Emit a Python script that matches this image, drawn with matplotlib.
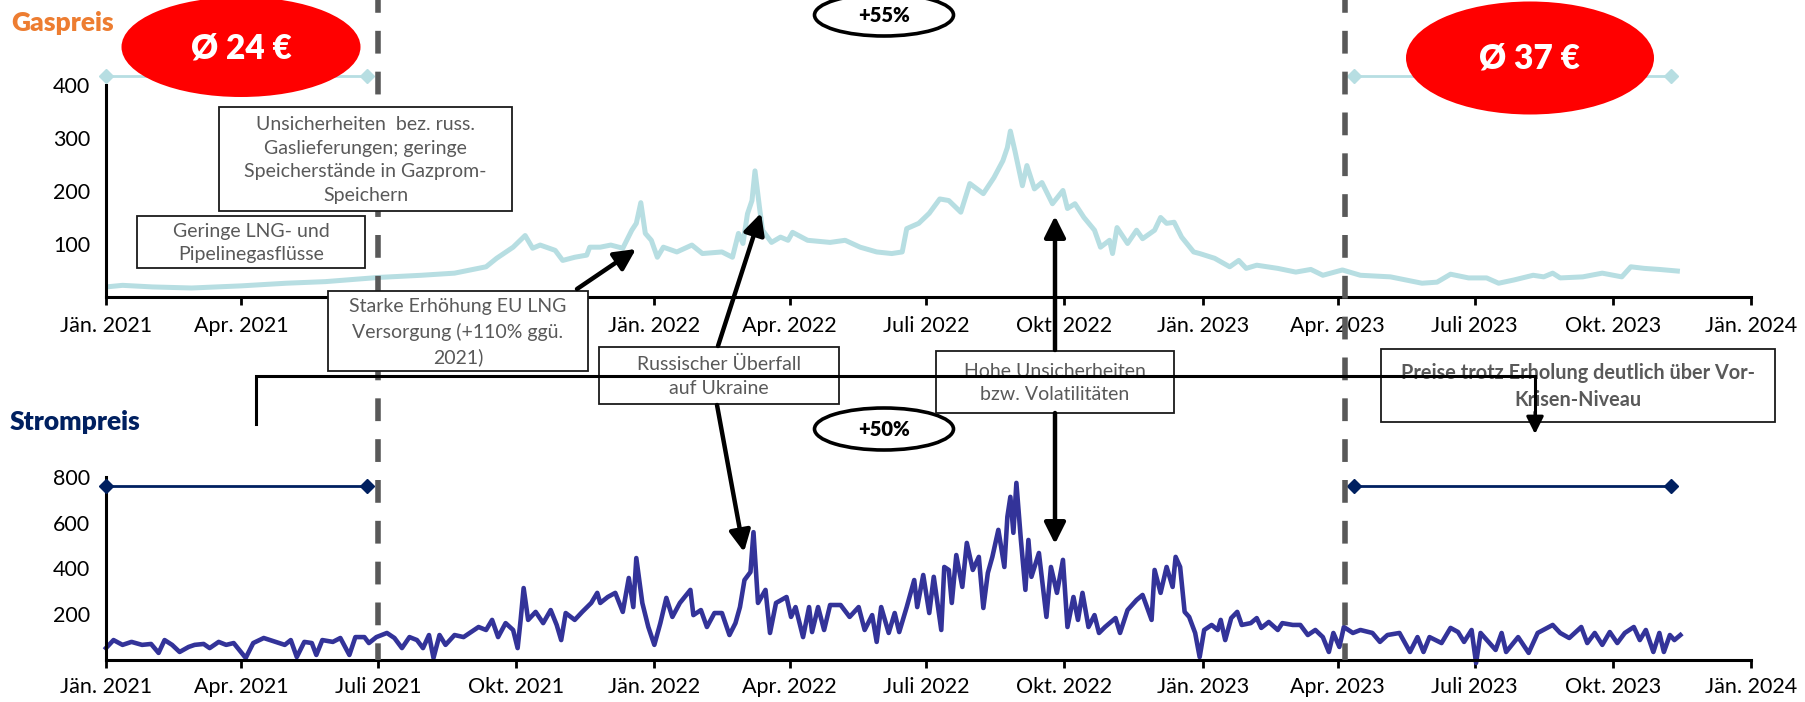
import matplotlib
matplotlib.use("Agg")
import matplotlib.pyplot as plt
import matplotlib.dates as mdates
from matplotlib.patches import Ellipse, Rectangle
from matplotlib.ticker import FuncFormatter
import pandas as pd

plt.rcParams['font.family'] = ['Lato', 'DejaVu Sans']

# ---------------------------------------------------------------- data
gas_dates = [
    "2021-01-01", "2021-01-12", "2021-02-01", "2021-02-27", "2021-04-01", "2021-05-01", "2021-05-27",
    "2021-07-02", "2021-07-30", "2021-08-21", "2021-09-11", "2021-09-18", "2021-09-29", "2021-10-07",
    "2021-10-12", "2021-10-17", "2021-10-27", "2021-11-01", "2021-11-09", "2021-11-17", "2021-11-19",
    "2021-11-26", "2021-12-03", "2021-12-11", "2021-12-17", "2021-12-20", "2021-12-23", "2021-12-26",
    "2021-12-30",
    "2022-01-03", "2022-01-07", "2022-01-16", "2022-01-26", "2022-02-02", "2022-02-15", "2022-02-22",
    "2022-02-26", "2022-03-01", "2022-03-04", "2022-03-07", "2022-03-09", "2022-03-12", "2022-03-14",
    "2022-03-20", "2022-03-26", "2022-03-31", "2022-04-03", "2022-04-13", "2022-04-28", "2022-05-08",
    "2022-05-18", "2022-05-29", "2022-06-08", "2022-06-15", "2022-06-18", "2022-06-26", "2022-07-03",
    "2022-07-10", "2022-07-16", "2022-07-24", "2022-07-30", "2022-08-08", "2022-08-15", "2022-08-21",
    "2022-08-24", "2022-08-26", "2022-08-29", "2022-09-03", "2022-09-06", "2022-09-11", "2022-09-16",
    "2022-09-23", "2022-09-30", "2022-10-03", "2022-10-08", "2022-10-14", "2022-10-21", "2022-10-25",
    "2022-10-31", "2022-11-02", "2022-11-05", "2022-11-12", "2022-11-18", "2022-11-22", "2022-11-30",
    "2022-12-04", "2022-12-08", "2022-12-13", "2022-12-18", "2022-12-26", "2022-12-30",
    "2023-01-09", "2023-01-19", "2023-01-25", "2023-01-30", "2023-02-06", "2023-02-20", "2023-03-04",
    "2023-03-14", "2023-03-22", "2023-04-04", "2023-04-16", "2023-05-06", "2023-05-27", "2023-06-06",
    "2023-06-15", "2023-06-27", "2023-07-09", "2023-07-17", "2023-07-27", "2023-08-09", "2023-08-16",
    "2023-08-22", "2023-08-27", "2023-09-11", "2023-09-24", "2023-10-07", "2023-10-13", "2023-10-22",
    "2023-11-01", "2023-11-13",
]
gas_values = [
    19, 22, 19, 17, 21, 26, 29,
    37, 41, 45, 57, 73, 94, 116,
    92, 98, 88, 69, 75, 79, 94,
    94, 98, 92, 126, 139, 178, 120,
    107,
    75, 94, 85, 98, 82, 85, 75,
    120, 101, 157, 182, 238, 169, 126,
    103, 113, 107, 122, 107, 103, 107,
    94, 85, 82, 85, 129, 139, 158,
    185, 182, 160, 214, 195, 225, 257,
    282, 313, 276, 210, 248, 204, 216,
    176, 201, 167, 176, 150, 126, 94,
    107, 82, 131, 101, 126, 110, 126,
    150, 139, 141, 113, 85, 82,
    73, 57, 69, 54, 60, 54, 47,
    52, 41, 51, 41, 38, 26, 28,
    43, 36, 36, 26, 32, 41, 38,
    45, 36, 38, 45, 38, 57, 54,
    52, 49,
]

power_dates = [
    "2021-01-01", "2021-01-06", "2021-01-12", "2021-01-18", "2021-01-25", "2021-01-31",
    "2021-02-05", "2021-02-09", "2021-02-14", "2021-02-19", "2021-02-25",
    "2021-03-01", "2021-03-07", "2021-03-11", "2021-03-17", "2021-03-22", "2021-03-27",
    "2021-04-04", "2021-04-09", "2021-04-16", "2021-04-24", "2021-04-30",
    "2021-05-04", "2021-05-08", "2021-05-13", "2021-05-18", "2021-05-21", "2021-05-25",
    "2021-06-01", "2021-06-06", "2021-06-12", "2021-06-16", "2021-06-22", "2021-06-25", "2021-06-30",
    "2021-07-07", "2021-07-12", "2021-07-17", "2021-07-22", "2021-07-27", "2021-07-31",
    "2021-08-04", "2021-08-07", "2021-08-11", "2021-08-15", "2021-08-21", "2021-08-27",
    "2021-09-01", "2021-09-06", "2021-09-11", "2021-09-15", "2021-09-19", "2021-09-24", "2021-09-29",
    "2021-10-02", "2021-10-04", "2021-10-06", "2021-10-09", "2021-10-14", "2021-10-19", "2021-10-24", "2021-10-28", "2021-10-31",
    "2021-11-03", "2021-11-09", "2021-11-14", "2021-11-20", "2021-11-24", "2021-11-26",
    "2021-12-01", "2021-12-06", "2021-12-11", "2021-12-15", "2021-12-18", "2021-12-20", "2021-12-24", "2021-12-28",
    "2022-01-01", "2022-01-05", "2022-01-09", "2022-01-13", "2022-01-18", "2022-01-25", "2022-01-27",
    "2022-02-01", "2022-02-05", "2022-02-10", "2022-02-15", "2022-02-20", "2022-02-24", "2022-02-27",
    "2022-03-02", "2022-03-06", "2022-03-08", "2022-03-11", "2022-03-16", "2022-03-19", "2022-03-23", "2022-03-30",
    "2022-04-02", "2022-04-05", "2022-04-10", "2022-04-14", "2022-04-16", "2022-04-20", "2022-04-24", "2022-04-28",
    "2022-05-05", "2022-05-11", "2022-05-17", "2022-05-21", "2022-05-26", "2022-05-29",
    "2022-06-01", "2022-06-06", "2022-06-10", "2022-06-13", "2022-06-18", "2022-06-23", "2022-06-25", "2022-06-29",
    "2022-07-03", "2022-07-06", "2022-07-11", "2022-07-13", "2022-07-16", "2022-07-18", "2022-07-21", "2022-07-25", "2022-07-28",
    "2022-08-01", "2022-08-05", "2022-08-08", "2022-08-11", "2022-08-14", "2022-08-18", "2022-08-22", "2022-08-24", "2022-08-26", "2022-08-28", "2022-08-30",
    "2022-09-02", "2022-09-05", "2022-09-07", "2022-09-09", "2022-09-14", "2022-09-19", "2022-09-22", "2022-09-26", "2022-09-30",
    "2022-10-03", "2022-10-07", "2022-10-10", "2022-10-13", "2022-10-17", "2022-10-21", "2022-10-24", "2022-10-28",
    "2022-11-04", "2022-11-07", "2022-11-12", "2022-11-18", "2022-11-22", "2022-11-28", "2022-11-30",
    "2022-12-04", "2022-12-08", "2022-12-12", "2022-12-14", "2022-12-17", "2022-12-20", "2022-12-23", "2022-12-27", "2022-12-30",
    "2023-01-02", "2023-01-07", "2023-01-11", "2023-01-13", "2023-01-16", "2023-01-20", "2023-01-24", "2023-01-27",
    "2023-02-02", "2023-02-06", "2023-02-09", "2023-02-14", "2023-02-20", "2023-02-23",
    "2023-03-02", "2023-03-07", "2023-03-12", "2023-03-17", "2023-03-22", "2023-03-26", "2023-03-29",
    "2023-04-02", "2023-04-05", "2023-04-11", "2023-04-16", "2023-04-24", "2023-04-29",
    "2023-05-04", "2023-05-12", "2023-05-19", "2023-05-24", "2023-05-28",
    "2023-06-01", "2023-06-09", "2023-06-15", "2023-06-20", "2023-06-24", "2023-06-29",
    "2023-07-02", "2023-07-05", "2023-07-15", "2023-07-19", "2023-07-22", "2023-07-30",
    "2023-08-06", "2023-08-12", "2023-08-22", "2023-08-27",
    "2023-09-02", "2023-09-10", "2023-09-14", "2023-09-19", "2023-09-24", "2023-09-29",
    "2023-10-04", "2023-10-09", "2023-10-15", "2023-10-19", "2023-10-23", "2023-10-28",
    "2023-11-01", "2023-11-04", "2023-11-08", "2023-11-11", "2023-11-15",
]
power_values = [
    52, 87, 66, 79, 66, 70,
    31, 87, 66, 35, 57,
    66, 70, 52, 79, 66, 74,
    9, 74, 96, 79, 66,
    87, 13, 79, 74, 22, 87,
    79, 96, 22, 100, 100, 74, 100,
    118, 96, 52, 100, 87, 52,
    109, 9, 109, 66, 109, 100,
    122, 144, 131, 175, 100, 161, 131,
    52, 175, 314, 175, 210, 161, 218, 153, 87,
    205, 175, 210, 249, 293, 249,
    275, 293, 210, 358, 231, 445, 249, 144,
    66, 161, 271, 188, 249, 306, 196,
    218, 144, 205, 205, 109, 161, 231,
    349, 384, 558, 249, 306, 118, 249, 275,
    188, 231, 100, 231, 122, 231, 131, 240,
    240, 188, 231, 131, 196, 79,
    231, 118, 205, 122, 231, 349, 231, 371,
    205, 363, 131, 406, 393, 249, 458, 319, 511,
    393, 450, 227, 380, 450, 568, 406, 625, 712, 555, 773,
    524, 306, 524, 363, 467, 188, 406, 293, 437,
    144, 275, 175, 293, 144, 196, 118, 144,
    183, 118, 218, 262, 284, 175, 393,
    293, 406, 319, 450, 406, 210, 188, 118, 13,
    131, 153, 131, 175, 87, 183, 210, 153,
    161, 183, 140, 166, 131, 161,
    153, 153, 109, 131, 100, 35, 118,
    57, 144, 118, 131, 118, 79,
    109, 118, 35, 100, 35,
    100, 74, 140, 122, 79, 131,
    -13, 118, 44, 118, 35, 100,
    31, 118, 153, 118,
    96, 144, 74, 118, 66, 122,
    74, 118, 144, 87, 131, 35,
    118, 35, 109, 87, 109,
]

# reference periods with their average price level marker
avg_periods = [("2021-01-01", "2021-06-24"), ("2023-04-12", "2023-11-09")]
gas_avg_level = 417
power_avg_level = 761
avg_labels = ["Ø 24 €", "Ø 37 €"]
change_labels = ["+55%", "+50%"]

phase_breaks = ["2021-07-01", "2023-04-06"]
quarter_names = {1: "Jän.", 4: "Apr.", 7: "Juli", 10: "Okt."}
gas_yticks = [100, 200, 300, 400]
power_yticks = [200, 400, 600, 800]
# gas-axis date labels that sit under the LNG note box
gas_hidden_labels = ["2021-07-01", "2021-10-01"]

# ---------------------------------------------------------------- styling
GAS_COLOR = "#B7DEE2"
POWER_COLOR = "#333399"
NAVY = "#002060"
GREY_TXT = "#595959"

W, H = 1806, 702
fig = plt.figure(figsize=(W / 100, H / 100), dpi=100)
L, R = 106, 1751


def rect(top_px, bottom_px):
    return [L / W, 1 - bottom_px / H, (R - L) / W, (bottom_px - top_px) / H]


ax_gas = fig.add_axes(rect(85, 297))
ax_pow = fig.add_axes(rect(476.7, 660))


def make_fmt(hidden):
    hidden_nums = {round(mdates.date2num(pd.Timestamp(h))) for h in hidden}

    def fmt(v, pos):
        if round(v) in hidden_nums:
            return ""
        d = mdates.num2date(v)
        return f"{quarter_names[d.month]} {d.year}"
    return fmt


def style(ax, ylim, yticks, xpad, hidden):
    ax.set_xlim(pd.Timestamp("2021-01-01"), pd.Timestamp("2024-01-01"))
    ax.set_ylim(*ylim)
    ax.set_yticks(yticks)
    for s in ("top", "right"):
        ax.spines[s].set_visible(False)
    for s in ("left", "bottom"):
        ax.spines[s].set_linewidth(2.2)
        ax.spines[s].set_color("black")
    ax.xaxis.set_major_locator(mdates.MonthLocator(bymonth=[1, 4, 7, 10]))
    ax.xaxis.set_major_formatter(FuncFormatter(make_fmt(hidden)))
    ax.tick_params(axis="x", direction="out", length=6, width=2, labelsize=15.5, pad=xpad)
    ax.tick_params(axis="y", length=0, labelsize=15.5, pad=11.5)
    ax.patch.set_alpha(0)


style(ax_gas, (0, 400), gas_yticks, 8, gas_hidden_labels)
style(ax_pow, (0, 800), power_yticks, 6, [])

gd = pd.to_datetime(gas_dates)
pdts = pd.to_datetime(power_dates)
ax_gas.plot(gd, gas_values, color=GAS_COLOR, lw=3.6, solid_joinstyle="round", zorder=2)
ax_pow.plot(pdts, power_values, color=POWER_COLOR, lw=3.3, solid_joinstyle="round",
            clip_on=False, zorder=2)

for a, b in avg_periods:
    xs = pd.to_datetime([a, b])
    ax_gas.plot(xs, [gas_avg_level] * 2, color=GAS_COLOR, lw=2, marker="D", ms=7,
                clip_on=False, zorder=3)
    ax_pow.plot(xs, [power_avg_level] * 2, color=NAVY, lw=2, marker="D", ms=7,
                clip_on=False, zorder=3)

# ---------------------------------------------------------------- overlay (pixel space)
ov = fig.add_axes([0, 0, 1, 1])
ov.set_xlim(0, W)
ov.set_ylim(H, 0)
ov.axis("off")
ov.set_zorder(10)
ov.patch.set_alpha(0)

# phase separators, placed via the power axis date scale
y_bottom = H - ax_pow.transData.transform((0, 0))[1]
for d in phase_breaks:
    xdisp = ax_pow.transData.transform((mdates.date2num(pd.Timestamp(d)), 0))[0]
    ov.plot([xdisp, xdisp], [0, y_bottom], color="#595959", lw=4,
            linestyle=(1.8, (4.1, 3.25)), zorder=1)

# average badges
for (cx, cy, w, h), txt in zip([(241, 47, 239, 100), (1530, 58, 248, 113)], avg_labels):
    ov.add_patch(Ellipse((cx, cy), w, h, facecolor="#FF0000", edgecolor="none", zorder=3))
    ov.text(cx, cy + 1, txt, color="white", fontsize=24, fontweight="heavy",
            ha="center", va="center", zorder=4)

# change badges
for (cx, cy), txt in zip([(884, 15), (884, 429)], change_labels):
    ov.add_patch(Ellipse((cx, cy), 139, 42, facecolor="white", edgecolor="black",
                         lw=2.6, zorder=3))
    ov.text(cx, cy + 1, txt, color="black", fontsize=14.5, fontweight="heavy",
            ha="center", va="center", zorder=4)

# annotation boxes
boxes = [
    ((137, 216, 365, 268), "Geringe LNG- und\nPipelinegasflüsse", "normal"),
    ((219, 107, 512, 211), "Unsicherheiten  bez. russ.\nGaslieferungen; geringe\nSpeicherstände in Gazprom-\nSpeichern", "normal"),
    ((328, 291, 588, 371), "Starke Erhöhung EU LNG\nVersorgung (+110% ggü.\n2021)", "normal"),
    ((599, 347, 839, 404), "Russischer Überfall\nauf Ukraine", "normal"),
    ((936, 351, 1174, 413), "Hohe Unsicherheiten\nbzw. Volatilitäten", "normal"),
    ((1381, 349, 1775, 422), "Preise trotz Erholung deutlich über Vor-\nKrisen-Niveau", "bold"),
]
for (x0, y0, x1, y1), txt, wt in boxes:
    ov.add_patch(Rectangle((x0, y0), x1 - x0, y1 - y0, facecolor="white",
                           edgecolor="#1a1a1a", lw=1.3, zorder=5))
    ov.text((x0 + x1) / 2, (y0 + y1) / 2 + 1, txt, color=GREY_TXT,
            fontsize=14 if wt == "normal" else 14.3,
            fontweight=wt, ha="center", va="center", multialignment="center",
            linespacing=1.48, zorder=6)

# arrows
arrow_style = "-|>,head_length=0.8,head_width=0.4"
arrows = [
    ((577, 289), (636, 249)),
    ((718, 346), (761, 213)),
    ((717, 405), (744, 552)),
    ((1055, 350), (1055, 216)),
    ((1055, 413), (1055, 544)),
]
for tail, tip in arrows:
    ov.annotate("", xy=tip, xytext=tail,
                arrowprops=dict(arrowstyle=arrow_style, lw=3.2, color="black",
                                shrinkA=0, shrinkB=0, mutation_scale=16), zorder=7)

# bracket spanning the crisis period
ov.plot([256, 256, 1535, 1535], [424, 376, 376, 418], color="black", lw=2.2,
        solid_joinstyle="miter", zorder=8)
ov.annotate("", xy=(1535, 434), xytext=(1535, 412),
            arrowprops=dict(arrowstyle=arrow_style, lw=2.2, color="black",
                            shrinkA=0, shrinkB=0, mutation_scale=13), zorder=8)

# panel titles
ov.text(11, 23, "Gaspreis", color="#ED7D31", fontsize=19, fontweight="heavy",
        ha="left", va="center", zorder=9)
ov.text(10, 422, "Strompreis", color=NAVY, fontsize=19, fontweight="heavy",
        ha="left", va="center", zorder=9)

fig.savefig("out.png", dpi=100)
